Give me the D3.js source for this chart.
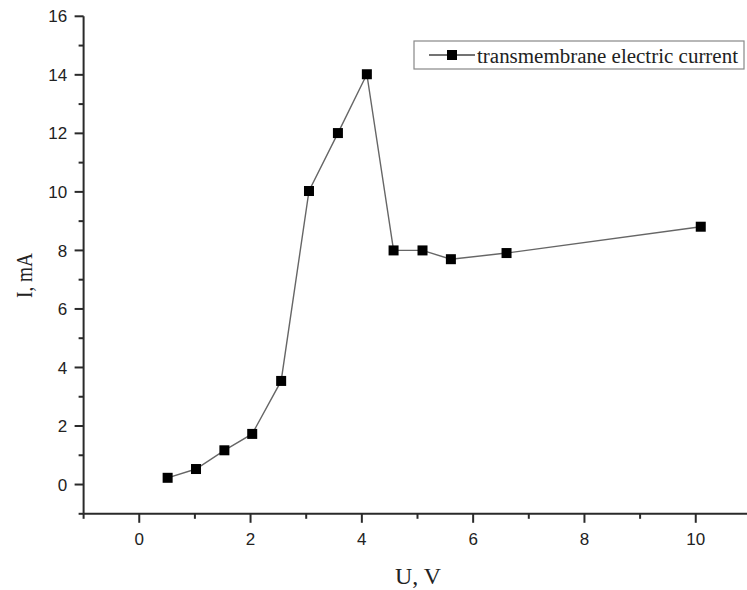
<!DOCTYPE html>
<html><head><meta charset="utf-8">
<script src="https://cdn.jsdelivr.net/npm/d3@7"></script>
<style>body{margin:0;background:#fff}svg{display:block}</style>
</head><body>
<svg id="c" width="747" height="590"></svg>
<script>
const voltage = [0.51, 1.02, 1.53, 2.03, 2.55, 3.05, 3.57, 4.09, 4.57, 5.09, 5.60, 6.60, 10.09];
const current = [0.23, 0.53, 1.17, 1.73, 3.54, 10.03, 12.01, 14.02, 8.0, 8.0, 7.70, 7.91, 8.81];
const xTicks = [0, 2, 4, 6, 8, 10];
const yTicks = [0, 2, 4, 6, 8, 10, 12, 14, 16];
const seriesName = "transmembrane electric current";

const svg = d3.select("#c");
const x = d3.scaleLinear().domain([-1, 11]).range([83.6, 751.4]);
const y = d3.scaleLinear().domain([-1, 16]).range([513.8, 16.3]);
const axisColor = "#2a2a2a";
const sans = "Liberation Sans, Arial, sans-serif";
const serif = "Liberation Serif, Times New Roman, serif";

// x axis
const gx = svg.append("g").attr("transform", `translate(0,${y(-1)})`);
gx.append("line").attr("x1", x(-1)).attr("x2", 747).attr("stroke", axisColor).attr("stroke-width", 2);
gx.selectAll(".minor").data(d3.range(-1, 12, 2)).enter().append("line")
  .attr("x1", d => x(d)).attr("x2", d => x(d)).attr("y1", 0).attr("y2", 5)
  .attr("stroke", axisColor).attr("stroke-width", 2);
gx.selectAll(".major").data(xTicks).enter().append("line")
  .attr("x1", d => x(d)).attr("x2", d => x(d)).attr("y1", 0).attr("y2", 9)
  .attr("stroke", axisColor).attr("stroke-width", 2);
gx.selectAll("text").data(xTicks).enter().append("text")
  .attr("x", d => x(d)).attr("y", 31.5).attr("text-anchor", "middle")
  .attr("font-family", sans).attr("font-size", 17).attr("fill", "#222")
  .text(d => d);

// y axis
const gy = svg.append("g").attr("transform", `translate(${x(-1)},0)`);
gy.append("line").attr("y1", y(16)).attr("y2", y(-1)).attr("stroke", axisColor).attr("stroke-width", 2);
gy.selectAll(".minor").data(d3.range(-1, 16, 2)).enter().append("line")
  .attr("y1", d => y(d)).attr("y2", d => y(d)).attr("x1", 0).attr("x2", -5)
  .attr("stroke", axisColor).attr("stroke-width", 2);
gy.selectAll(".major").data(yTicks).enter().append("line")
  .attr("y1", d => y(d)).attr("y2", d => y(d)).attr("x1", 0).attr("x2", -9)
  .attr("stroke", axisColor).attr("stroke-width", 2);
gy.selectAll("text").data(yTicks).enter().append("text")
  .attr("x", -16.5).attr("y", d => y(d)).attr("dy", "0.36em").attr("text-anchor", "end")
  .attr("font-family", sans).attr("font-size", 17).attr("fill", "#222")
  .text(d => d);

// axis titles
svg.append("text").attr("x", 395).attr("y", 584)
  .attr("font-family", serif).attr("font-size", 24).attr("fill", "#222")
  .attr("textLength", 46).attr("lengthAdjust", "spacingAndGlyphs")
  .text("U, V");
svg.append("text").attr("transform", "translate(32,298) rotate(-90)")
  .attr("font-family", serif).attr("font-size", 24).attr("fill", "#222")
  .attr("textLength", 45).attr("lengthAdjust", "spacingAndGlyphs")
  .text("I, mA");

// series
const pts = voltage.map((v, i) => [v, current[i]]);
svg.append("path").datum(pts)
  .attr("d", d3.line().x(d => x(d[0])).y(d => y(d[1])))
  .attr("fill", "none").attr("stroke", "#666").attr("stroke-width", 1.4);
const ms = 10;
svg.selectAll(".pt").data(pts).enter().append("rect")
  .attr("x", d => x(d[0]) - ms / 2).attr("y", d => y(d[1]) - ms / 2)
  .attr("width", ms).attr("height", ms).attr("fill", "#000");

// legend
const lg = svg.append("g");
lg.append("rect").attr("x", 414).attr("y", 41).attr("width", 330).attr("height", 28)
  .attr("fill", "#fff").attr("stroke", "#888").attr("stroke-width", 1.2);
lg.append("line").attr("x1", 429).attr("x2", 475).attr("y1", 55).attr("y2", 55)
  .attr("stroke", "#444").attr("stroke-width", 1.4);
lg.append("rect").attr("x", 447).attr("y", 50).attr("width", ms).attr("height", ms).attr("fill", "#000");
lg.append("text").attr("x", 477).attr("y", 63)
  .attr("font-family", serif).attr("font-size", 20).attr("fill", "#222")
  .attr("textLength", 261).attr("lengthAdjust", "spacingAndGlyphs")
  .text(seriesName);
</script>
</body></html>
